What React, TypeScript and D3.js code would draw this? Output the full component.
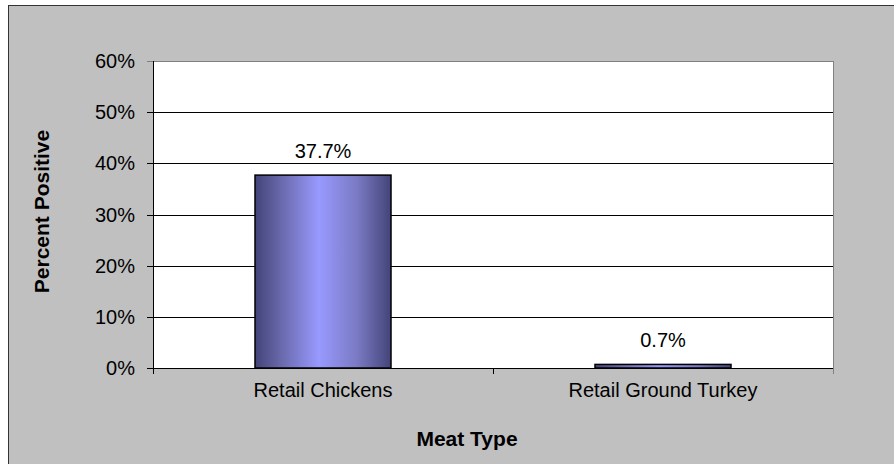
import React from "react";
import * as d3 from "d3";

const categories: string[] = ["Retail Chickens", "Retail Ground Turkey"];
const values: number[] = [37.7, 0.7];
const valueLabels: string[] = ["37.7%", "0.7%"];
const yTicks: number[] = [0, 10, 20, 30, 40, 50, 60];
const xTitle = "Meat Type";
const yTitle = "Percent Positive";

const W = 894;
const H = 464;
const plot = { left: 153, right: 833, top: 61, bottom: 368 };
const FONT = "'Liberation Sans', Arial, sans-serif";

export default function App() {
  const x = d3
    .scaleBand<string>()
    .domain(categories)
    .range([plot.left, plot.right])
    .paddingInner(0.6)
    .paddingOuter(0.3);
  const band = d3.scaleBand<string>().domain(categories).range([plot.left, plot.right]);
  const y = d3.scaleLinear().domain([0, 60]).range([plot.bottom, plot.top]);
  const px = (v: number) => Math.round(v) + 0.5;

  const catEdges = [plot.left, ...categories.map((c) => (band(c) as number) + band.bandwidth())];

  return (
    <div style={{ position: "absolute", left: 0, top: 0, width: W, height: H, overflow: "hidden" }}>
      <svg width={W} height={H} style={{ display: "block" }}>
        <defs>
          <linearGradient id="barGrad" x1="0" x2="1" y1="0" y2="0">
            <stop offset="0" stopColor="#44447a" />
            <stop offset="0.2" stopColor="#6a6aae" />
            <stop offset="0.47" stopColor="#9999ff" />
            <stop offset="0.75" stopColor="#7a7ac4" />
            <stop offset="1" stopColor="#44447a" />
          </linearGradient>
        </defs>
        <rect x={0} y={0} width={W} height={H} fill="#ffffff" />
        <rect x={8.5} y={5.5} width={W + 20} height={H + 20} fill="#c0c0c0" stroke="#333" strokeWidth={1} />
        <rect
          x={plot.left}
          y={plot.top}
          width={plot.right - plot.left}
          height={plot.bottom - plot.top}
          fill="#ffffff"
        />
        {yTicks.map((t) => (
          <g key={t}>
            <line
              x1={plot.left - 6}
              x2={plot.right}
              y1={px(y(t))}
              y2={px(y(t))}
              stroke={t === 60 ? "#808080" : "#000"}
              strokeWidth={1}
            />
            <text
              x={135}
              y={y(t) + 7}
              textAnchor="end"
              fontFamily={FONT}
              fontSize={20}
              fill="#000"
            >
              {t}%
            </text>
          </g>
        ))}
        <line x1={px(plot.right)} x2={px(plot.right)} y1={plot.top} y2={plot.bottom} stroke="#808080" />
        {categories.map((c, i) => {
          const bx = x(c) as number;
          const by = y(values[i]);
          return (
            <g key={c}>
              <rect
                x={bx}
                y={by}
                width={x.bandwidth()}
                height={y(0) - by}
                fill="url(#barGrad)"
                stroke="#000"
                strokeWidth={1.5}
              />
              <text
                x={bx + x.bandwidth() / 2}
                y={by - 17}
                textAnchor="middle"
                fontFamily={FONT}
                fontSize={20}
                fill="#000"
              >
                {valueLabels[i]}
              </text>
              <text
                x={(band(c) as number) + band.bandwidth() / 2}
                y={397}
                textAnchor="middle"
                fontFamily={FONT}
                fontSize={20}
                fill="#000"
              >
                {c}
              </text>
            </g>
          );
        })}
        <line x1={px(plot.left)} x2={px(plot.left)} y1={plot.top} y2={plot.bottom + 1} stroke="#000" />
        <line x1={plot.left - 6} x2={plot.right + 1} y1={px(plot.bottom)} y2={px(plot.bottom)} stroke="#000" />
        {catEdges.map((e, i) => (
          <line
            key={i}
            x1={px(e)}
            x2={px(e)}
            y1={plot.bottom}
            y2={plot.bottom + 6}
            stroke={i === catEdges.length - 1 ? "#808080" : "#000"}
          />
        ))}
        <text
          x={467}
          y={446}
          textAnchor="middle"
          fontFamily={FONT}
          fontSize={21}
          fontWeight="bold"
          fill="#000"
        >
          {xTitle}
        </text>
        <text
          transform={`translate(49, ${(plot.top + plot.bottom) / 2 - 3}) rotate(-90)`}
          textAnchor="middle"
          fontFamily={FONT}
          fontSize={21}
          fontWeight="bold"
          fill="#000"
        >
          {yTitle}
        </text>
      </svg>
    </div>
  );
}
